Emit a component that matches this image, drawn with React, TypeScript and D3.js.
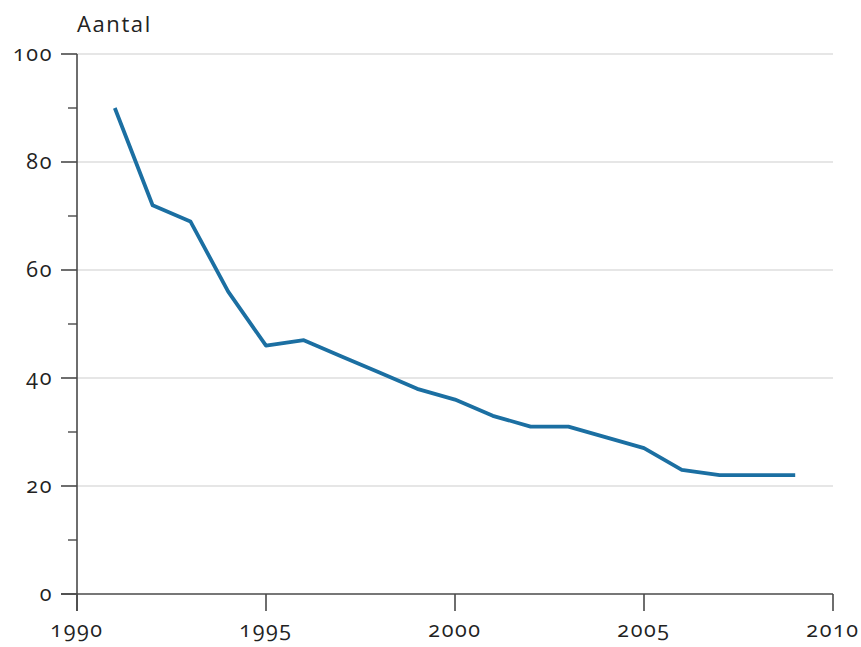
import React from "react";
import * as d3 from "d3";

const years = [1991, 1992, 1993, 1994, 1995, 1996, 1997, 1998, 1999, 2000, 2001, 2002, 2003, 2004, 2005, 2006, 2007, 2008, 2009];
const values = [90, 72, 69, 56, 46, 47, 44, 41, 38, 36, 33, 31, 31, 29, 27, 23, 22, 22, 22];
const yMajorTicks = [0, 20, 40, 60, 80, 100];
const yMinorTicks = [10, 30, 50, 70, 90];
const xTicks = [1990, 1995, 2000, 2005, 2010];
const yTitle = "Aantal";

const W = 861;
const H = 647;
const m = { left: 77, right: 28, top: 54, bottom: 53 };

export default function App() {
  const x = d3.scaleLinear().domain([1990, 2010]).range([m.left, W - m.right]);
  const y = d3.scaleLinear().domain([0, 100]).range([H - m.bottom, m.top]);
  const line = d3
    .line<number>()
    .x((_, i) => x(years[i]))
    .y((d) => y(d));
  const font = "'Open Sans', 'Noto Sans', sans-serif";
  const axisColor = "#4a4a4a";
  const textStyle: React.CSSProperties = {
    fontVariantNumeric: "oldstyle-nums",
    fontFeatureSettings: "'onum' 1",
    letterSpacing: "1.6px",
  };
  return (
    <svg
      width={W}
      height={H}
      style={{ position: "absolute", left: 0, top: 0, background: "#fff" }}
      fontFamily={font}
    >
      {yMajorTicks
        .filter((t) => t > 0)
        .map((t) => (
          <line key={"g" + t} x1={x(1990)} x2={x(2010)} y1={y(t)} y2={y(t)} stroke="#e6e6e6" strokeWidth={2} />
        ))}
      <line x1={x(1990)} x2={x(1990)} y1={y(100)} y2={y(0) + 17} stroke={axisColor} strokeWidth={1.6} />
      <line x1={x(1990) - 16} x2={x(2010)} y1={y(0)} y2={y(0)} stroke={axisColor} strokeWidth={1.6} />
      {yMajorTicks.map((t) => (
        <g key={"y" + t}>
          <line x1={x(1990) - 16} x2={x(1990)} y1={y(t)} y2={y(t)} stroke={axisColor} strokeWidth={1.6} />
          <text x={x(1990) - 24} y={y(t) + 7} textAnchor="end" fontSize={21.5} fill="#222" style={textStyle}>
            {t}
          </text>
        </g>
      ))}
      {yMinorTicks.map((t) => (
        <line key={"ym" + t} x1={x(1990) - 9} x2={x(1990)} y1={y(t)} y2={y(t)} stroke={axisColor} strokeWidth={1.4} />
      ))}
      {xTicks.map((t) => (
        <g key={"x" + t}>
          <line x1={x(t)} x2={x(t)} y1={y(0)} y2={y(0) + 17} stroke={axisColor} strokeWidth={1.6} />
          <text x={x(t)} y={y(0) + 43} textAnchor="middle" fontSize={21.5} fill="#222" style={textStyle}>
            {t}
          </text>
        </g>
      ))}
      <text x={x(1990)} y={32} fontSize={22} fill="#222" style={{ letterSpacing: "1.6px" }}>
        {yTitle}
      </text>
      <path d={line(values) || ""} fill="none" stroke="#1b6fa2" strokeWidth={3.8} strokeLinejoin="round" />
    </svg>
  );
}
